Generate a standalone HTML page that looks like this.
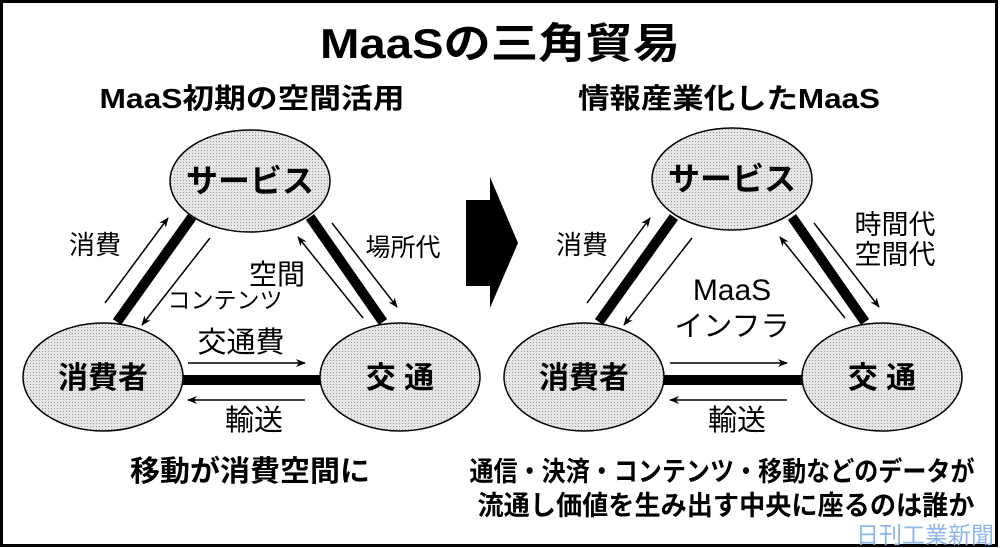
<!DOCTYPE html>
<html><head><meta charset="utf-8"><style>
html,body{margin:0;padding:0;background:#fff;}
svg{display:block;}
text{font-family:"Liberation Sans","Noto Sans CJK JP",sans-serif;fill:#000;}
</style></head><body>
<svg width="1000" height="548" viewBox="0 0 1000 548">
<defs>
<marker id="ah" markerWidth="10" markerHeight="8" refX="9" refY="4" orient="auto" markerUnits="userSpaceOnUse">
<path d="M0,0 L10,4 L0,8 L3,4 Z" fill="#000"/>
</marker>
<pattern id="dots" width="3" height="3" patternUnits="userSpaceOnUse">
<rect width="3" height="3" fill="#e6e6e6"/><rect width="1" height="1" fill="#9a9a9a"/>
</pattern>
</defs>
<rect x="1.5" y="1.5" width="995" height="544" fill="none" stroke="#000" stroke-width="3"/>
<text x="500" y="58" font-size="42" font-weight="bold" text-anchor="middle" textLength="360" lengthAdjust="spacingAndGlyphs">MaaSの三角貿易</text>
<text x="252" y="108" font-size="28" font-weight="bold" text-anchor="middle" textLength="305" lengthAdjust="spacingAndGlyphs">MaaS初期の空間活用</text>
<text x="729" y="108" font-size="28" font-weight="bold" text-anchor="middle" textLength="302" lengthAdjust="spacingAndGlyphs">情報産業化したMaaS</text>

<!-- big arrow -->
<path d="M466,200 L490,200 L490,177 L518,243 L490,308 L490,286 L466,286 Z" fill="#000"/>

<!-- LEFT diagram -->
<g>
<line x1="117" y1="322" x2="192" y2="217" stroke="#000" stroke-width="10"/>
<line x1="310" y1="217" x2="383" y2="322" stroke="#000" stroke-width="10"/>
<line x1="180" y1="380" x2="322" y2="380" stroke="#000" stroke-width="10"/>
<g stroke="#000" stroke-width="1.5" fill="none" marker-end="url(#ah)">
<line x1="105" y1="303" x2="168" y2="218"/>
<line x1="210" y1="238" x2="142" y2="325"/>
<line x1="332" y1="223" x2="397" y2="307"/>
<line x1="363" y1="318" x2="298" y2="237"/>
<line x1="188" y1="363" x2="305" y2="363"/>
<line x1="305" y1="400" x2="188" y2="400"/>
</g>
<ellipse cx="250" cy="181" rx="80" ry="51" fill="url(#dots)" stroke="#000" stroke-width="1.5"/>
<ellipse cx="103" cy="377" rx="80" ry="54" fill="url(#dots)" stroke="#000" stroke-width="1.5"/>
<ellipse cx="400" cy="377" rx="80" ry="54" fill="url(#dots)" stroke="#000" stroke-width="1.5"/>
<text x="250" y="192" font-size="32" font-weight="bold" text-anchor="middle">サービス</text>
<text x="103" y="388" font-size="30" font-weight="bold" text-anchor="middle">消費者</text>
<text x="400" y="388" font-size="30" font-weight="bold" text-anchor="middle">交 通</text>
<text x="95" y="254" font-size="26" text-anchor="middle">消費</text>
<text x="403" y="256" font-size="25" text-anchor="middle">場所代</text>
<text x="277" y="284" font-size="28" text-anchor="middle">空間</text>
<text x="225" y="308" font-size="23" text-anchor="middle">コンテンツ</text>
<text x="241" y="352" font-size="29" text-anchor="middle">交通費</text>
<text x="254" y="430" font-size="29" text-anchor="middle">輸送</text>
<text x="250" y="481" font-size="29" font-weight="bold" text-anchor="middle" textLength="240" lengthAdjust="spacingAndGlyphs">移動が消費空間に</text>
</g>

<!-- RIGHT diagram -->
<g transform="translate(482,0)">
<line x1="117" y1="322" x2="192" y2="217" stroke="#000" stroke-width="10"/>
<line x1="310" y1="217" x2="383" y2="322" stroke="#000" stroke-width="10"/>
<line x1="180" y1="380" x2="322" y2="380" stroke="#000" stroke-width="10"/>
<g stroke="#000" stroke-width="1.5" fill="none" marker-end="url(#ah)">
<line x1="105" y1="303" x2="168" y2="218"/>
<line x1="210" y1="238" x2="142" y2="325"/>
<line x1="332" y1="223" x2="397" y2="307"/>
<line x1="363" y1="318" x2="298" y2="237"/>
<line x1="188" y1="363" x2="305" y2="363"/>
<line x1="305" y1="400" x2="188" y2="400"/>
</g>
<ellipse cx="250" cy="179" rx="80" ry="51" fill="url(#dots)" stroke="#000" stroke-width="1.5"/>
<ellipse cx="102" cy="377" rx="80" ry="54" fill="url(#dots)" stroke="#000" stroke-width="1.5"/>
<ellipse cx="400" cy="377" rx="80" ry="54" fill="url(#dots)" stroke="#000" stroke-width="1.5"/>
<text x="250" y="190" font-size="32" font-weight="bold" text-anchor="middle">サービス</text>
<text x="102" y="388" font-size="30" font-weight="bold" text-anchor="middle">消費者</text>
<text x="400" y="388" font-size="30" font-weight="bold" text-anchor="middle">交 通</text>
<text x="100" y="254" font-size="26" text-anchor="middle">消費</text>
<text x="413" y="234" font-size="27" text-anchor="middle">時間代</text>
<text x="413" y="264" font-size="27" text-anchor="middle">空間代</text>
<text x="250" y="300" font-size="30" text-anchor="middle">MaaS</text>
<text x="250" y="336" font-size="29" text-anchor="middle">インフラ</text>
<text x="255" y="430" font-size="29" text-anchor="middle">輸送</text>
</g>
<text x="722" y="481" font-size="27" font-weight="bold" text-anchor="middle" textLength="505" lengthAdjust="spacingAndGlyphs">通信・決済・コンテンツ・移動などのデータが</text>
<text x="726" y="515" font-size="27" font-weight="bold" text-anchor="middle" textLength="497" lengthAdjust="spacingAndGlyphs">流通し価値を生み出す中央に座るのは誰か</text>
<text x="994" y="543" font-size="23" text-anchor="end" style="fill:#8db6ea">日刊工業新聞</text>
</svg>
</body></html>
